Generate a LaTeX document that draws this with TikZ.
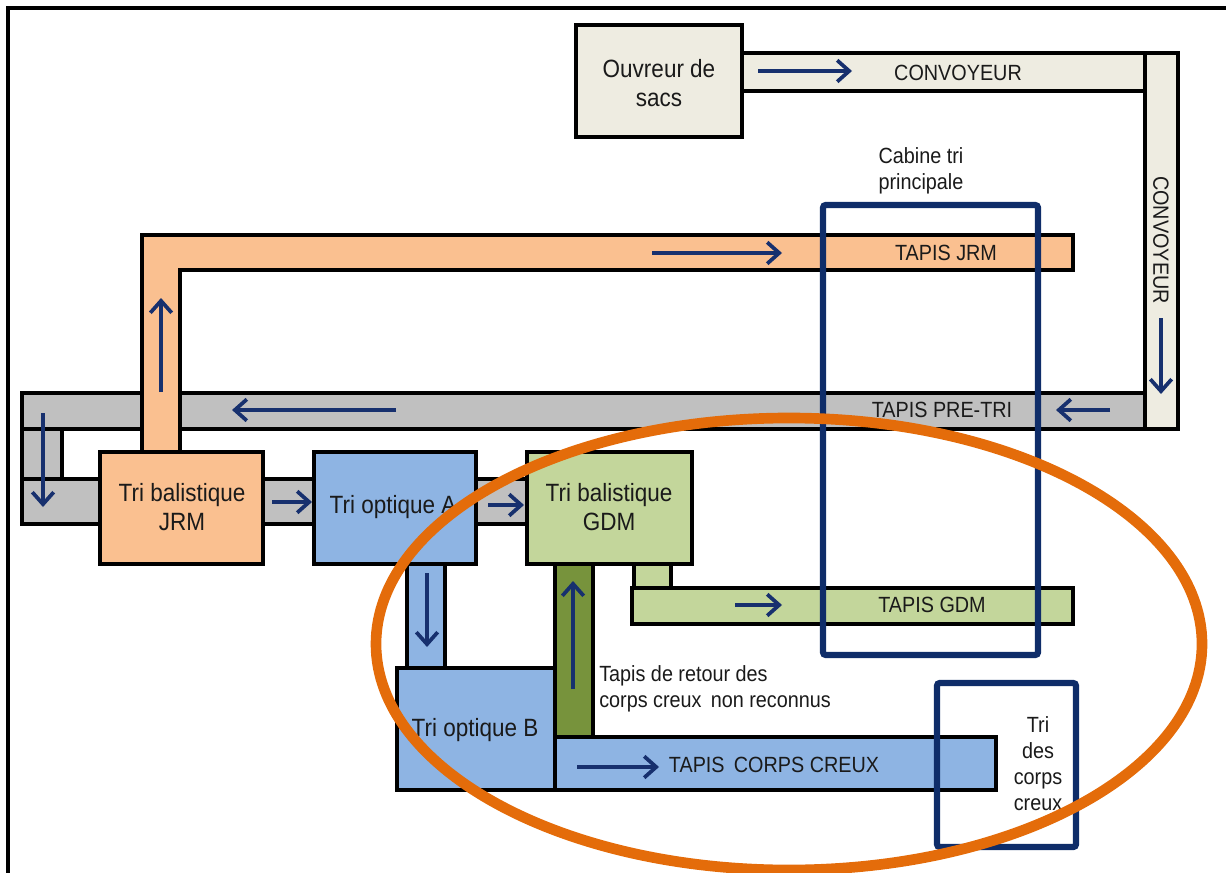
\documentclass[tikz,border=0pt]{standalone}
\usepackage{fontspec}
\setmainfont{Liberation Sans}[FakeStretch=0.9]
\usetikzlibrary{arrows.meta}
\definecolor{beige}{HTML}{EEECE1}
\definecolor{orng}{HTML}{FAC090}
\definecolor{gry}{HTML}{C0C0C0}
\definecolor{blu}{HTML}{8EB4E3}
\definecolor{grn}{HTML}{C3D69B}
\definecolor{dgrn}{HTML}{77933C}
\definecolor{navy}{HTML}{0F2D69}
\definecolor{arr}{HTML}{17306E}
\definecolor{ell}{HTML}{E46C0A}
\definecolor{txt}{HTML}{1A1A1A}
\begin{document}
\begin{tikzpicture}[x=0.75pt,y=-0.75pt,
  bar/.style={draw=black, line width=2.6pt},
  flow/.style={draw=arr, line width=2.4pt, -{Straight Barb[length=9pt,width=16pt,line width=2.8pt]}},
  big/.style={text=txt, font=\fontsize{18.75}{21.75}\selectfont, align=center, inner sep=0pt},
  lab/.style={text=txt, font=\fontsize{16.5}{19.5}\selectfont, align=center, inner sep=0pt},
  cabin/.style={draw=navy, line width=4.6pt, rounded corners=2pt},
  frame/.style={draw=black, line width=2.4pt}]
\useasboundingbox (0,0) rectangle (1226,873);
% outer frame
\draw[frame] (8,873) -- (8,8) -- (1226,8);

% conveyors (top)
\draw[bar, fill=beige] (742,53) rectangle (1145,91);
\draw[bar, fill=beige] (1145,53) rectangle (1178,429);
\draw[bar, fill=beige] (576,25) rectangle (742,137);

% gray pre-tri structure
\draw[bar, fill=gry] (22,479) rectangle (527,524);
\draw[bar, fill=gry] (22,393) rectangle (1145,429);
\draw[bar, fill=gry] (22,429) rectangle (62,479);

% orange tapis JRM (L shape)
\draw[bar, fill=orng] (142,235) -- (1073,235) -- (1073,270) -- (180,270) -- (180,452) -- (142,452) -- cycle;

% connectors
\draw[bar, fill=blu] (407,564) rectangle (445,668);
\draw[bar, fill=grn] (634,564) rectangle (671,588);
\draw[bar, fill=grn] (632,588) rectangle (1073,624);
\draw[bar, fill=dgrn] (555,564) rectangle (593,737);
\draw[bar, fill=blu] (555,737) rectangle (996,790);

% machines
\draw[bar, fill=orng] (100,452) rectangle (263,564);
\draw[bar, fill=blu] (314,452) rectangle (476,564);
\draw[bar, fill=grn] (527,452) rectangle (692,564);
\draw[bar, fill=blu] (397,668) rectangle (555,790);

% sorting cabins
\draw[cabin] (823,205) rectangle (1038,655);
\draw[cabin] (937,683) rectangle (1076,847);

% flow arrows
\coordinate (a1s) at (758,71);   \coordinate (a1e) at (852,71);
\coordinate (a2s) at (1161,318); \coordinate (a2e) at (1161,394);
\coordinate (a3s) at (1110,410); \coordinate (a3e) at (1056,410);
\coordinate (a4s) at (396,410);  \coordinate (a4e) at (232,410);
\coordinate (a5s) at (652,253);  \coordinate (a5e) at (782,253);
\coordinate (a6s) at (161,392);  \coordinate (a6e) at (161,298);
\coordinate (a7s) at (43,413);   \coordinate (a7e) at (43,507);
\coordinate (a8s) at (272,502);  \coordinate (a8e) at (312,502);
\coordinate (a9s) at (488,505);  \coordinate (a9e) at (524,505);
\coordinate (a10s) at (427,573); \coordinate (a10e) at (427,647);
\coordinate (a11s) at (573,689); \coordinate (a11e) at (573,581);
\coordinate (a12s) at (735,605); \coordinate (a12e) at (782,605);
\coordinate (a13s) at (577,767); \coordinate (a13e) at (659,767);
\foreach \i in {1,...,13} \draw[flow] (a\i s) -- (a\i e);

% texts
\node[big] (ouv) at (659,83) {Ouvreur de\\sacs};
\node[lab] (convh) at (958,73) {CONVOYEUR};
\node[lab, rotate=-90] (convv) at (1161,240) {CONVOYEUR};
\node[lab] (cab) at (921,171) {Cabine tri\\principale};
\node[lab] (tjrm) at (946,253) {TAPIS JRM};
\node[lab] (tpre) at (942,410) {TAPIS PRE-TRI};
\node[big] (tbjrm) at (182,507) {Tri balistique\\JRM};
\node[big] (toa) at (393,507) {Tri optique A};
\node[big] (tbgdm) at (609,507) {Tri balistique\\GDM};
\node[lab] (tgdm) at (932,605) {TAPIS GDM};
\node[lab, align=left, anchor=west] (ret) at (599,689) {Tapis de retour des\\corps creux\, non reconnus};
\node[big] (tob) at (475,730) {Tri optique B};
\node[lab] (tcc) at (774,765) {TAPIS\, CORPS CREUX};
\node[lab] (tdcc) at (1038,764) {Tri\\des\\corps\\creux};

% highlight ellipse
\draw[draw=ell, line width=8pt] (789,644) ellipse [x radius=309.75pt, y radius=169.5pt];
\end{tikzpicture}
\end{document}
